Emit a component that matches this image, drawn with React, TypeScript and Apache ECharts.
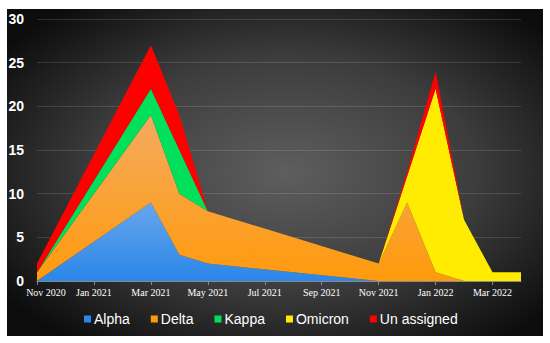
import React, { useEffect, useRef } from "react";
import * as echarts from "echarts";

// Monthly categories of the x axis (every other one is labelled)
const months = [
  "Nov 2020", "Dec 2020", "Jan 2021", "Feb 2021", "Mar 2021", "Apr 2021",
  "May 2021", "Jun 2021", "Jul 2021", "Aug 2021", "Sep 2021", "Oct 2021",
  "Nov 2021", "Dec 2021", "Jan 2022", "Feb 2022", "Mar 2022", "Apr 2022",
];
// Months with observations
const observed = [
  "Nov 2020", "Mar 2021", "Apr 2021", "May 2021", "Nov 2021",
  "Dec 2021", "Jan 2022", "Feb 2022", "Mar 2022", "Apr 2022",
];
const alpha = [0, 9, 3, 2, 0, 0, 0, 0, 0, 0];
const delta = [1, 10, 7, 6, 2, 9, 1, 0, 0, 0];
const kappa = [0, 3, 5, 0, 0, 0, 0, 0, 0, 0];
const omicron = [0, 0, 0, 0, 0, 3, 21, 7, 1, 1];
const unassigned = [1, 5, 4, 0, 0, 0.5, 2, 0, 0, 0];

const seriesDefs = [
  { name: "Alpha", data: alpha, color: "#2a86e8", top: "#68a6ec" },
  { name: "Delta", data: delta, color: "#ff9a0c", top: "#f4aa5e" },
  { name: "Kappa", data: kappa, color: "#00e05a", top: "#00e05a" },
  { name: "Omicron", data: omicron, color: "#ffec00", top: "#ffec00" },
  { name: "Un assigned", data: unassigned, color: "#ff0000", top: "#ff0000" },
];

const serif = "Liberation Serif, Times New Roman, serif";

export default function App() {
  const ref = useRef<HTMLDivElement>(null);
  useEffect(() => {
    if (!ref.current) return;
    const chart = echarts.init(ref.current, undefined, { renderer: "svg" });
    chart.setOption({
      animation: false,
      backgroundColor: "#ffffff",
      graphic: [
        {
          type: "rect",
          z: -100,
          silent: true,
          shape: { x: 7, y: 9, width: 536, height: 327 },
          style: {
            fill: new echarts.graphic.RadialGradient(0.52, 0.5, 0.65, [
              { offset: 0, color: "#5e5e5e" },
              { offset: 0.55, color: "#3c3c3c" },
              { offset: 1, color: "#0c0c0c" },
            ]),
          },
        },
      ],
      grid: { left: 37, right: 29, top: 19, bottom: 62, containLabel: false },
      legend: {
        bottom: 12,
        left: 79,
        itemWidth: 7,
        itemHeight: 7,
        itemGap: 21,
        icon: "rect",
        textStyle: {
          color: "#ffffff",
          fontSize: 14,
          fontFamily: "Liberation Sans, Arial, sans-serif",
          padding: [0, 0, 0, -2],
        },
        data: seriesDefs.map((s) => s.name),
      },
      xAxis: {
        type: "category",
        data: months,
        boundaryGap: false,
        splitLine: { show: false },
        axisLine: { show: true, lineStyle: { color: "#8a8a8a", width: 1 } },
        axisTick: {
          show: true,
          interval: 1,
          length: 4,
          lineStyle: { color: "#8a8a8a" },
        },
        axisLabel: {
          interval: 1,
          color: "#ffffff",
          fontSize: 10,
          fontFamily: serif,
          margin: 6,
          formatter: (v: string, i: number) =>
            i === 0 ? "{first|" + v + "}" : v,
          rich: {
            first: {
              color: "#ffffff",
              fontSize: 10,
              fontFamily: serif,
              padding: [0, 0, 0, 18],
            },
          },
        },
      },
      yAxis: {
        type: "value",
        min: 0,
        max: 30,
        interval: 5,
        axisLine: { show: false },
        axisTick: { show: false },
        splitLine: { lineStyle: { color: "rgba(255,255,255,0.13)", width: 1 } },
        axisLabel: {
          color: "#ffffff",
          fontSize: 14,
          fontWeight: "bold",
          fontFamily: "Liberation Sans, Arial, sans-serif",
          margin: 13,
        },
      },
      series: seriesDefs.map((s) => ({
        name: s.name,
        type: "line",
        stack: "total",
        showSymbol: false,
        symbol: "none",
        color: s.color,
        lineStyle: { width: 0 },
        areaStyle: {
          opacity: 1,
          color: new echarts.graphic.LinearGradient(0, 0, 0, 1, [
            { offset: 0, color: s.top },
            { offset: 1, color: s.color },
          ]),
        },
        data: s.data.map((v, i) => [observed[i], v]),
      })),
    });
    return () => chart.dispose();
  }, []);
  return (
    <div
      ref={ref}
      style={{ position: "fixed", left: 0, top: 0, width: 550, height: 343 }}
    />
  );
}
